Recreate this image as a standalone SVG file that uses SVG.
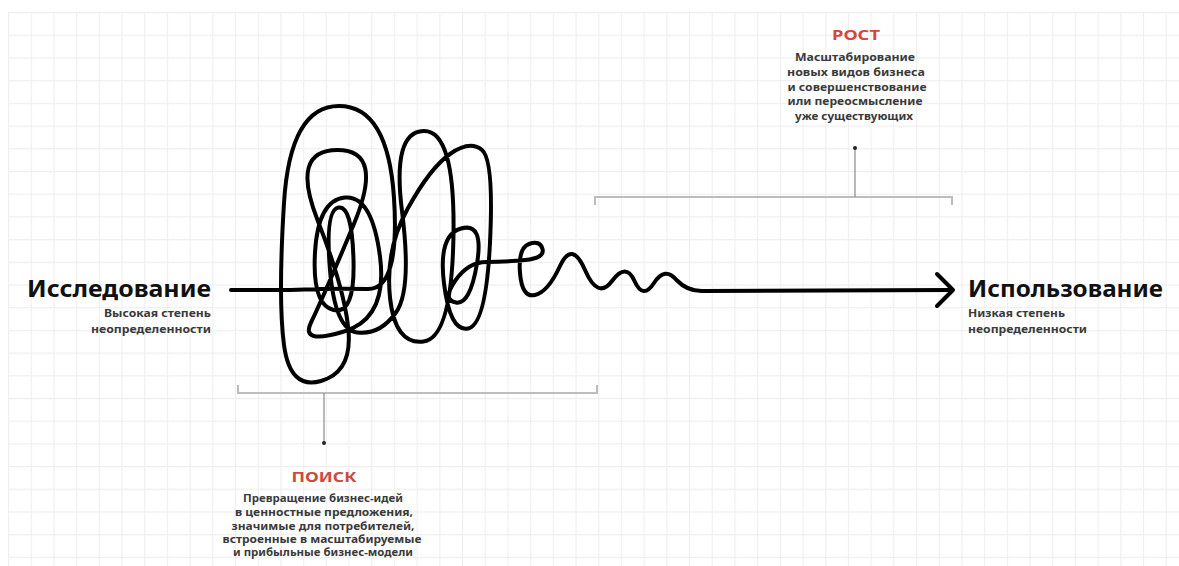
<svg xmlns="http://www.w3.org/2000/svg" width="1179" height="566" viewBox="0 0 1179 566">
<defs>
<pattern id="grid" x="8" y="12" width="22.7" height="22.7" patternUnits="userSpaceOnUse">
<path d="M0 0.5H22.7M0.5 0V22.7" fill="none" stroke="#efefef" stroke-width="1.3"/>
</pattern>
<style>
.title{font-family:"Noto Sans","Liberation Sans",sans-serif;font-weight:700;font-size:24px;fill:#111}
.sub{font-family:"Noto Sans","Liberation Sans",sans-serif;font-weight:700;font-size:10.5px;fill:#3a3a3a}
.head{font-family:"Noto Sans","Liberation Sans",sans-serif;font-weight:700;font-size:15px;fill:#cf4a3c;text-anchor:middle}
.body{font-family:"Noto Sans","Liberation Sans",sans-serif;font-weight:700;font-size:10.5px;fill:#3a3a3a;text-anchor:middle}
.brk{fill:none;stroke:#bdbdbd;stroke-width:2}
.stem{fill:none;stroke:#8a8a8a;stroke-width:1.2}
.dot{fill:#222}
.main{fill:none;stroke:#000;stroke-width:4;stroke-linecap:round;stroke-linejoin:round}
</style>
</defs>
<rect width="1179" height="566" fill="#fff"/>
<rect x="8" y="12" width="1171" height="554" fill="url(#grid)"/>

<g id="connectors">
<path class="main" d="M231,290 L290,290 Q335,288 367.5,289 Q400,290 394,198 Q388,106 339,106 Q290,106 284,203 Q278,300 284,345 Q290,390 321,381 Q352,372 348.5,331 Q345,290 317.5,220 Q290,150 337.5,150 Q385,150 353.5,225 Q322,300 311,322.5 Q300,345 344,331.5 Q388,318 380,256.5 Q372,195 345,197.5 Q318,200 315,252.5 Q312,305 333.5,310 Q355,315 353.5,260 Q352,205 338.5,207.5 Q325,210 330,270 Q335,330 357.5,332.5 Q380,335 396,312.5 Q412,290 402,211 Q392,132 423.5,131 Q455,130 453.5,234 Q452,338 423.5,341.5 Q395,345 390,297.5 Q385,250 407.5,209 Q430,168 450,154 Q470,140 482,150 Q494,160 490,242.5 Q486,325 468,328.5 Q450,332 444,283.5 Q438,235 461,228.5 Q484,222 477,263.5 Q470,305 456,302.5 Q442,300 455,281 Q468,262 486.5,262 Q505,262 525,260 Q545,258 542.5,249 Q540,240 529,244 Q518,248 520,273 Q522,298 535,295 Q548,292 560,266 Q572,240 585,270 Q598,300 612,281 Q626,262 634.5,281 Q643,300 654,283 Q665,266 676.5,280 Q688,292 704,291 L952,290"/>
<polyline class="main" points="937,274 953,290 937,306"/>
<path class="brk" d="M595,205 V197 H952 V205"/>
<path class="stem" d="M855,148 V197"/>
<circle class="dot" cx="855" cy="148" r="2"/>
<path class="brk" d="M238,385 V393 H597 V385"/>
<path class="stem" d="M324,393 V443"/>
<circle class="dot" cx="324" cy="443" r="2"/>
</g>

<g id="node-research">
<text class="title" x="211" y="297" text-anchor="end" textLength="184" lengthAdjust="spacingAndGlyphs">Исследование</text>
<text class="sub" x="211" y="317" text-anchor="end" textLength="107" lengthAdjust="spacingAndGlyphs">Высокая степень</text>
<text class="sub" x="211" y="333" text-anchor="end" textLength="120" lengthAdjust="spacingAndGlyphs">неопределенности</text>
</g>

<g id="node-usage">
<text class="title" x="968" y="297" textLength="195" lengthAdjust="spacingAndGlyphs">Использование</text>
<text class="sub" x="968" y="317" textLength="97" lengthAdjust="spacingAndGlyphs">Низкая степень</text>
<text class="sub" x="968" y="333" textLength="119" lengthAdjust="spacingAndGlyphs">неопределенности</text>
</g>

<g id="node-growth">
<text class="head" x="856" y="40" textLength="48" lengthAdjust="spacingAndGlyphs">РОСТ</text>
<text class="body" x="855" y="61" textLength="120" lengthAdjust="spacingAndGlyphs">Масштабирование</text>
<text class="body" x="856" y="76" textLength="138" lengthAdjust="spacingAndGlyphs">новых видов бизнеса</text>
<text class="body" x="857" y="91" textLength="139" lengthAdjust="spacingAndGlyphs">и совершенствование</text>
<text class="body" x="855" y="105" textLength="135" lengthAdjust="spacingAndGlyphs">или переосмысление</text>
<text class="body" x="854" y="120" textLength="118" lengthAdjust="spacingAndGlyphs">уже существующих</text>
</g>

<g id="node-search">
<text class="head" x="324" y="482" textLength="65" lengthAdjust="spacingAndGlyphs">ПОИСК</text>
<text class="body" x="323" y="502" textLength="160" lengthAdjust="spacingAndGlyphs">Превращение бизнес-идей</text>
<text class="body" x="324" y="516" textLength="178" lengthAdjust="spacingAndGlyphs">в ценностные предложения,</text>
<text class="body" x="323" y="530" textLength="183" lengthAdjust="spacingAndGlyphs">значимые для потребителей,</text>
<text class="body" x="322" y="543" textLength="199" lengthAdjust="spacingAndGlyphs">встроенные в масштабируемые</text>
<text class="body" x="323" y="556" textLength="180" lengthAdjust="spacingAndGlyphs">и прибыльные бизнес-модели</text>
</g>
</svg>
